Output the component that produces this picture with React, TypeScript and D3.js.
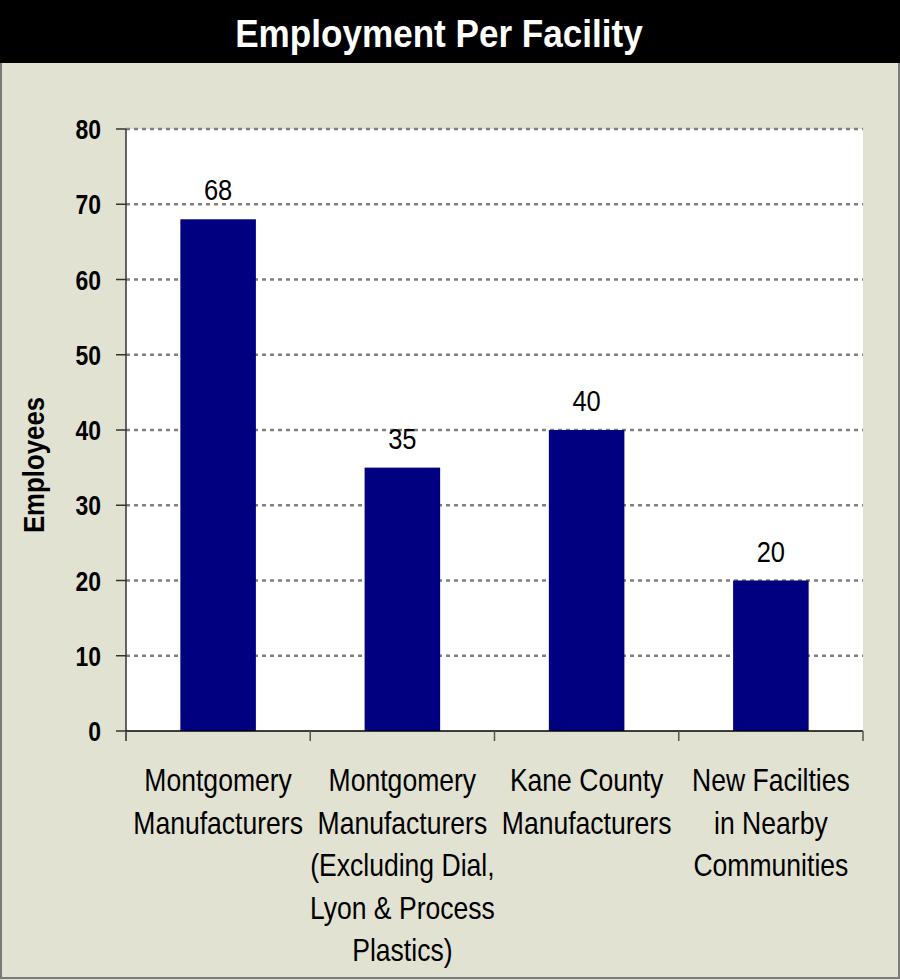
import React from "react";
import * as d3 from "d3";

const categories: string[][] = [
  ["Montgomery", "Manufacturers"],
  ["Montgomery", "Manufacturers", "(Excluding Dial,", "Lyon & Process", "Plastics)"],
  ["Kane County", "Manufacturers"],
  ["New Facilties", "in Nearby", "Communities"],
];
const values: number[] = [68, 35, 40, 20];
const yTicks: number[] = [0, 10, 20, 30, 40, 50, 60, 70, 80];
const title = "Employment Per Facility";
const yLabel = "Employees";

const W = 900;
const H = 980;
const FONT = "'Liberation Sans', Arial, sans-serif";

function NText(props: { x: number; y: number; sx: number; size: number; anchor?: string; bold?: boolean; fill?: string; rotate?: number; children: React.ReactNode }) {
  const { x, y, sx, size, anchor = "middle", bold, fill = "#000", rotate = 0, children } = props;
  return (
    <text
      transform={`translate(${x},${y}) rotate(${rotate}) scale(${sx},1)`}
      textAnchor={anchor}
      fontSize={size}
      fontWeight={bold ? "bold" : "normal"}
      fill={fill}
    >
      {children}
    </text>
  );
}

export default function App() {
  const left = 126, right = 863, top = 129, bottom = 731;
  const x = d3.scaleBand<number>().domain(d3.range(values.length)).range([left, right]).paddingInner(0.59).paddingOuter(0.295);
  const xc = d3.scaleBand<number>().domain(d3.range(values.length)).range([left, right]);
  const y = d3.scaleLinear().domain([0, 80]).range([bottom, top]);

  return (
    <svg width={W} height={H} style={{ position: "absolute", left: 0, top: 0, fontFamily: FONT }}>
      <rect x={0} y={0} width={W} height={H} fill="#E2E2D3" />
      <rect x={1} y={1} width={W - 2} height={H - 3} fill="none" stroke="#7a7a7a" strokeWidth={2} />
      <rect x={0} y={0} width={W} height={63} fill="#000" />
      <NText x={439} y={47} sx={0.9} size={39} bold fill="#fff">{title}</NText>

      <rect x={left} y={top} width={right - left} height={bottom - top} fill="#fff" />
      {yTicks.filter(t => t > 0).map(t => (
        <line key={t} x1={left} x2={right} y1={y(t)} y2={y(t)} stroke="#808080" strokeWidth={2.5} strokeDasharray="4 4" />
      ))}
      {values.map((v, i) => (
        <g key={i}>
          <rect x={x(i)} y={y(v)} width={x.bandwidth()} height={bottom - y(v)} fill="#000080" />
          <NText x={x(i)! + x.bandwidth() / 2} y={y(v) - 19} sx={0.85} size={30}>{v}</NText>
        </g>
      ))}
      <line x1={left} x2={left} y1={top} y2={bottom + 10} stroke="#333" strokeWidth={1.5} />
      <line x1={left} x2={right} y1={bottom} y2={bottom} stroke="#000" strokeWidth={1.5} />
      {yTicks.map(t => (
        <g key={t}>
          <line x1={left - 10} x2={left} y1={y(t)} y2={y(t)} stroke="#333" strokeWidth={1.5} />
          <NText x={101} y={y(t) + 10} sx={0.82} size={28} bold anchor="end">{t}</NText>
        </g>
      ))}
      {d3.range(values.length + 1).map(i => {
        const px = i < values.length ? xc(i)! : right;
        return <line key={i} x1={px} x2={px} y1={bottom} y2={bottom + 10} stroke="#555" strokeWidth={1.5} />;
      })}
      {categories.map((lines, i) => (
        <g key={i}>
          {lines.map((l, j) => (
            <NText key={j} x={xc(i)! + xc.bandwidth() / 2} y={791 + j * 42.5} sx={0.83} size={32}>{l}</NText>
          ))}
        </g>
      ))}
      <NText x={44} y={465} sx={0.86} size={30} bold rotate={-90}>{yLabel}</NText>
    </svg>
  );
}
